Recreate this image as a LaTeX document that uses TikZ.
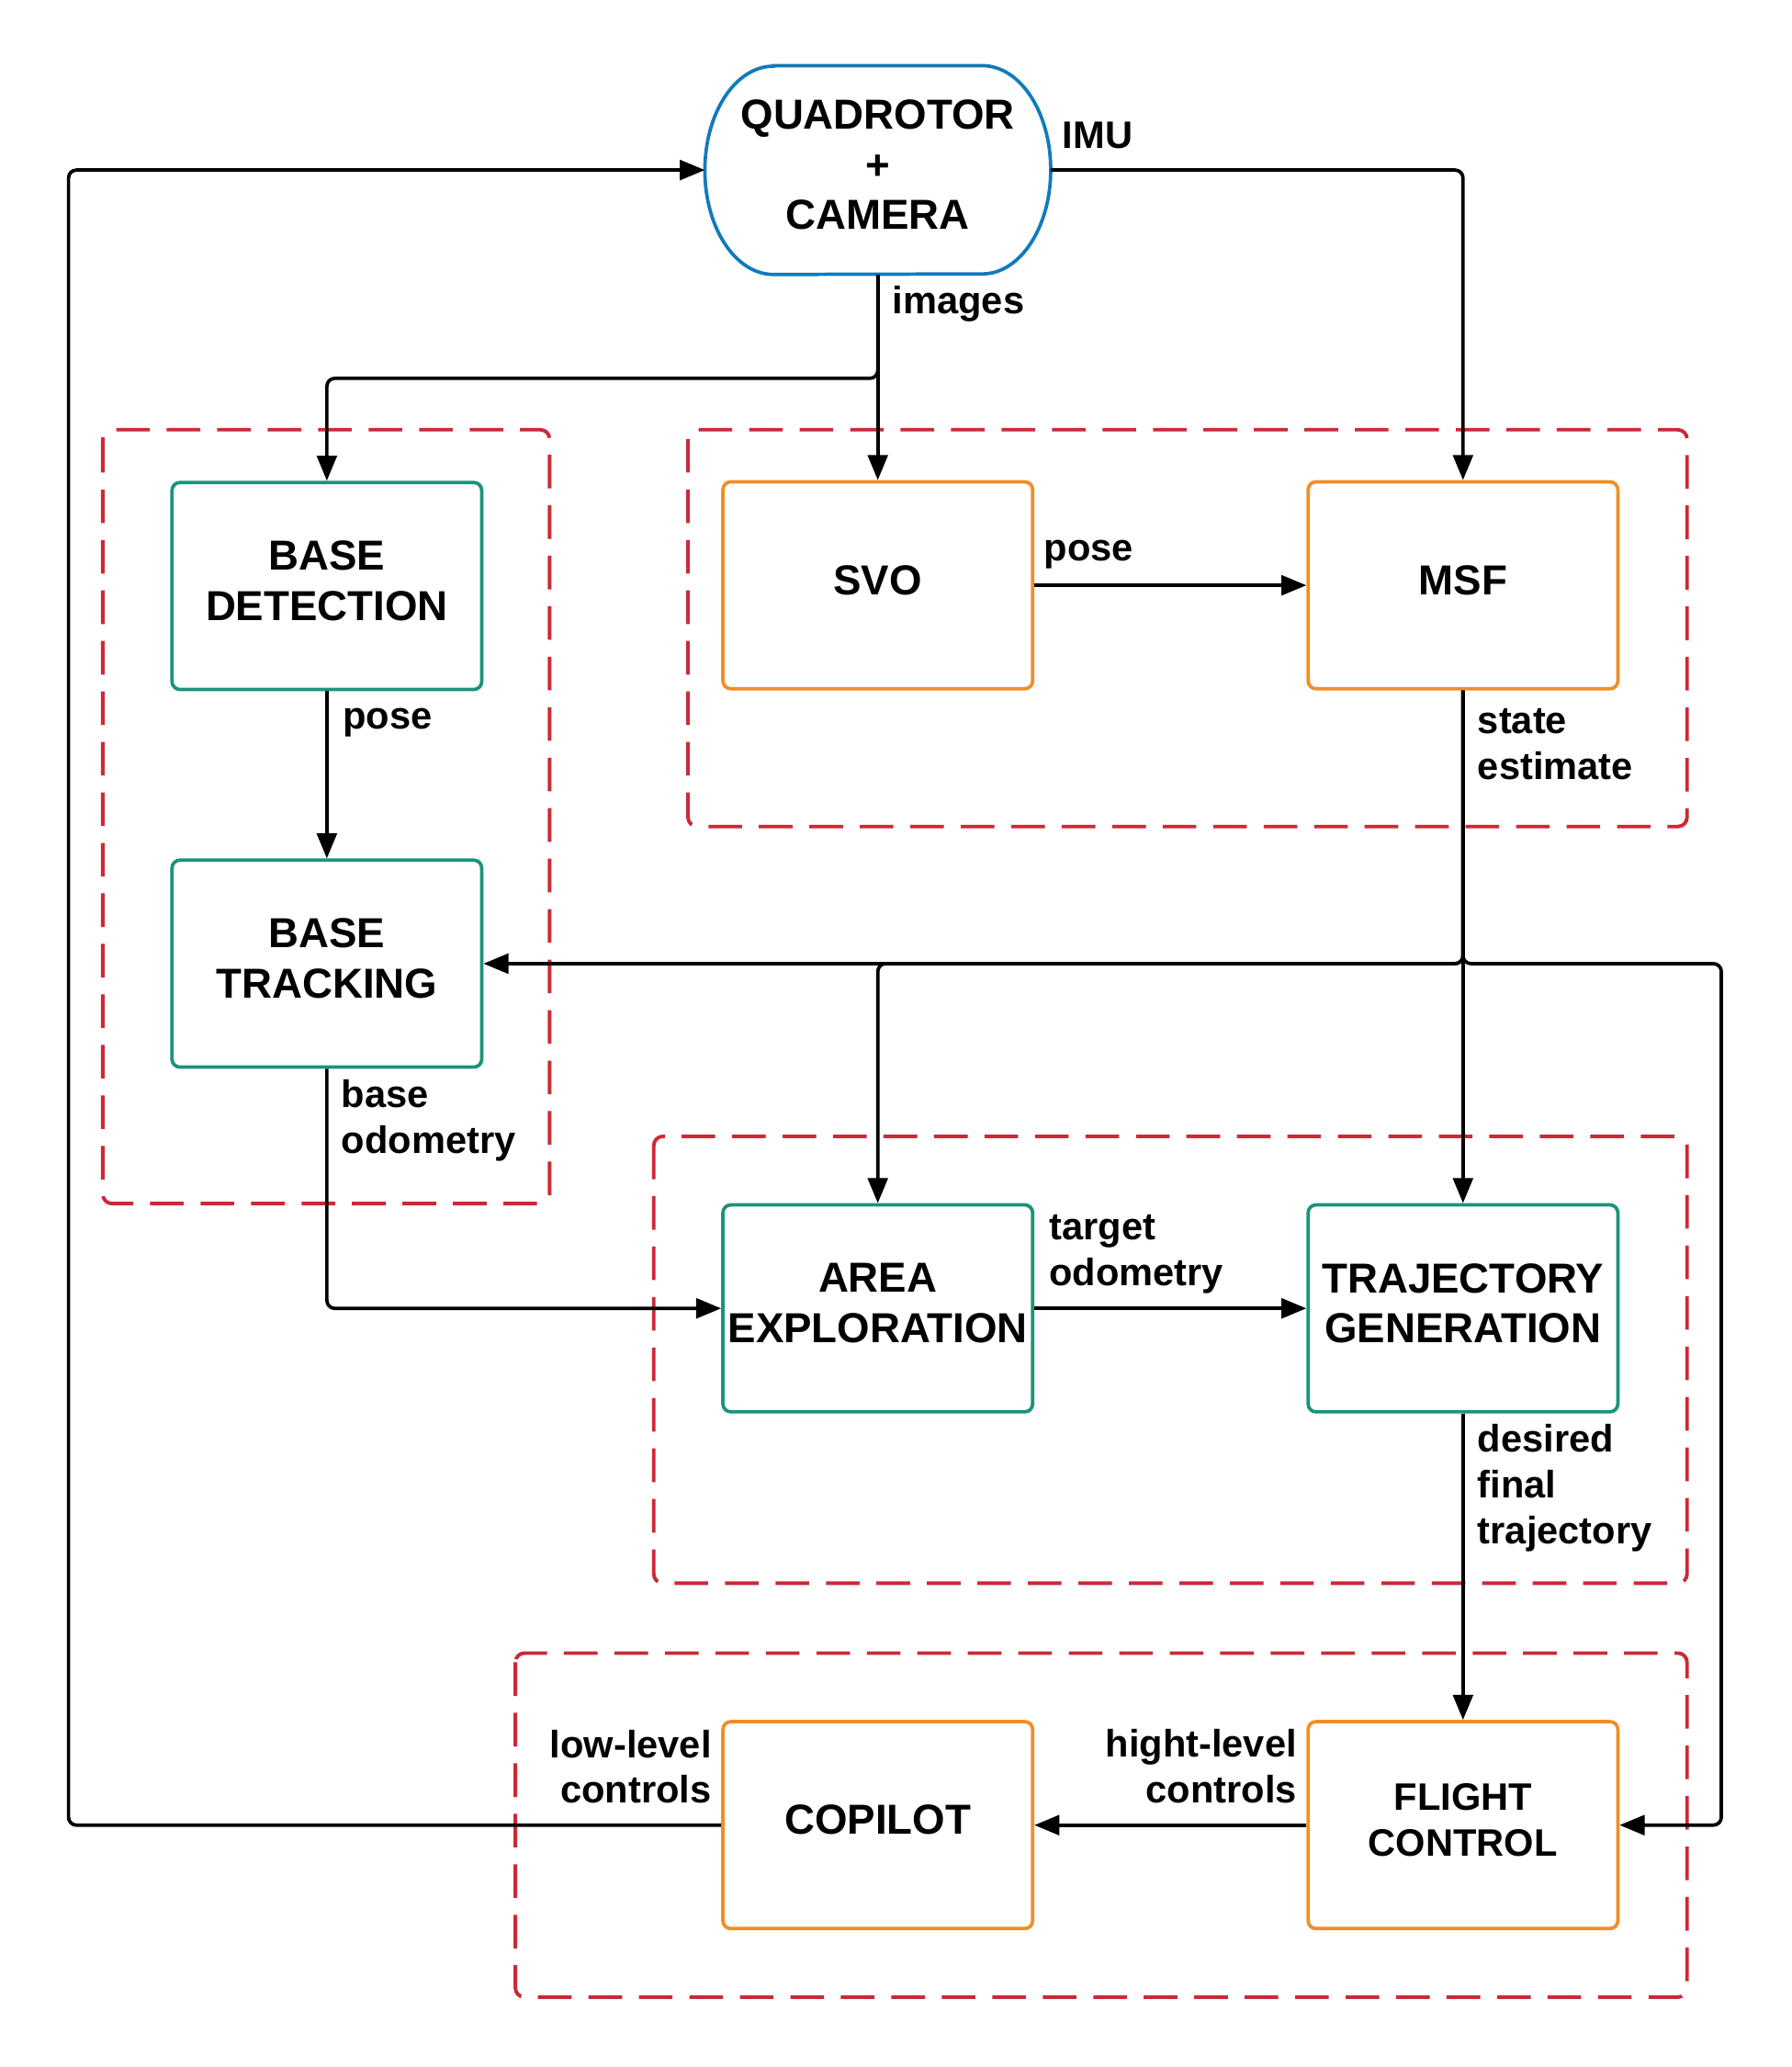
\documentclass[tikz,border=0pt]{standalone}
\usepackage{fontspec}
\setmainfont{Liberation Sans}
\usetikzlibrary{arrows.meta,calc}
\definecolor{qblue}{RGB}{17,122,189}
\definecolor{tealc}{RGB}{25,148,122}
\definecolor{orangec}{RGB}{242,141,38}
\definecolor{redc}{RGB}{204,41,54}
\begin{document}
\begin{tikzpicture}[x=1pt,y=-1pt,
  box/.style={draw, line width=2.6pt, rounded corners=6pt, fill=white,
    minimum width=235pt, minimum height=157pt, align=center, inner sep=0pt,
    text depth=8pt, font=\bfseries\fontsize{31.8}{38}\selectfont},
  gbox/.style={box, draw=tealc},
  obox/.style={box, draw=orangec},
  group/.style={draw=redc, line width=2.7pt, rounded corners=7pt,
    dash pattern=on 25.5pt off 12.8pt},
  conn/.style={draw=black, line width=2.6pt, rounded corners=6pt,
    -{Triangle[length=19pt,width=15pt]}},
  lab/.style={font=\bfseries\fontsize{29}{34.8}\selectfont, inner sep=0pt,
    align=left, anchor=north west},
  labr/.style={lab, align=right, anchor=north east}]
\useasboundingbox (0,0) rectangle (1359,1568);

% groups
\draw[group] (78,326) rectangle (417,913);
\draw[group] (522,326) rectangle (1280,627);
\draw[group] (496,862) rectangle (1280,1201);
\draw[group] (391,1254) rectangle (1280,1515);

% quadrotor
\node[minimum width=262pt, minimum height=158pt, inner sep=0pt, align=center,
  text depth=8pt, font=\bfseries\fontsize{31.8}{38}\selectfont] (q) at (666,129) {QUADROTOR\\+\\CAMERA};
\draw[qblue, line width=2.6pt]
  ($(q.north west)+(52,0)$) -- ($(q.north east)+(-52,0)$)
  arc[start angle=90, end angle=-90, x radius=52pt, y radius=79pt]
  -- ($(q.south west)+(52,0)$)
  arc[start angle=270, end angle=90, x radius=52pt, y radius=79pt] -- cycle;

% boxes
\node[gbox] (bd) at (248,444.5) {BASE\\DETECTION};
\node[gbox] (bt) at (248,731) {BASE\\TRACKING};
\node[obox] (svo) at (666,444) {SVO};
\node[obox] (msf) at (1110,444) {MSF};
\node[gbox] (ae) at (666,992.5) {AREA\\EXPLORATION};
\node[gbox] (tg) at (1110,992.5) {TRAJECTORY\\GENERATION};
\node[obox] (cp) at (666,1384.5) {COPILOT};
\node[obox, font=\bfseries\fontsize{29}{35}\selectfont] (fc) at (1110,1384.5) {FLIGHT\\CONTROL};

% connectors
\coordinate (lc) at (52,129);
\coordinate (ib) at (666,287);
\coordinate (j) at (1110,731);
\coordinate (rc) at (1306,731);
\draw[conn] (cp.west) -| (lc) -- (q.west);
\draw[conn] (q.east) -| (msf.north);
\draw[conn] (q.south) -- (svo.north);
\draw[conn] (q.south) -- (ib) -| (bd.north);
\draw[conn] (svo.east) -- (msf.west);
\draw[conn] (bd.south) -- (bt.north);
\draw[conn] (msf.south) -- (tg.north);
\draw[conn] (msf.south) -- (j) -- (bt.east);
\draw[conn] (msf.south) -- (j) -| (ae.north);
\draw[conn] (msf.south) -- (j) -- (rc) |- (fc.east);
\draw[conn] (bt.south) |- (ae.west);
\draw[conn] (ae.east) -- (tg.west);
\draw[conn] (tg.south) -- (fc.north);
\draw[conn] (fc.west) -- (cp.east);

% labels
\node[lab] (limu) at (806,88) {\strut IMU};
\node[lab] (limg) at (677,213.4) {\strut images};
\node[lab] (lpose1) at (792,400.6) {\strut pose};
\node[lab] (lpose2) at (260,528.3) {\strut pose};
\node[lab] (lstate) at (1121,531.6) {\strut state\\estimate};
\node[lab] (lbase) at (259,815.6) {\strut base\\odometry};
\node[lab] (ltarget) at (796,916) {\strut target\\odometry};
\node[lab] (ldes) at (1121,1077) {\strut desired\\final\\trajectory};
\node[labr] (lhigh) at (984,1308.4) {\strut hight-level\\controls};
\node[labr] (llow) at (540,1308.6) {\strut low-level\\controls};
\end{tikzpicture}
\end{document}
